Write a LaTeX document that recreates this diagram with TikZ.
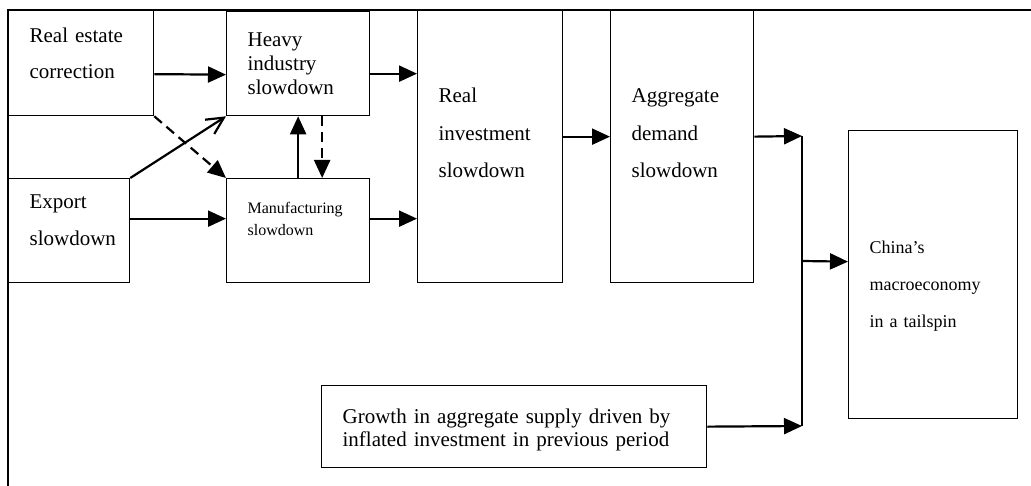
\documentclass[tikz,border=0pt]{standalone}
\usepackage{fontspec}
\setmainfont{Liberation Serif}
\usetikzlibrary{arrows.meta}
\hyphenpenalty=10000
\exhyphenpenalty=10000

\tikzset{
  box/.style={draw, line width=0.65pt, anchor=north west, align=left,
              inner xsep=10.5pt, inner ysep=0pt},
  flow/.style={line width=1.1pt, -{Triangle[length=9pt,width=8pt]}},
  flowdash/.style={flow, dash pattern=on 5pt off 3pt},
  flowopen/.style={line width=1.1pt, -{Straight Barb[length=8.5pt,width=8.5pt]}},
}

\begin{document}
\begin{tikzpicture}[x=0.5pt, y=-0.5pt]
\useasboundingbox (0,0) rectangle (1031,486);
% outer frame
\draw[line width=0.75pt] (8,486) -- (8,10) -- (1031,10);

% left column
\node[box, minimum width=72.5pt, minimum height=52.5pt, text width=51.5pt,
      text depth=27.5pt, font=\fontsize{10.5}{18}\selectfont]
      (realest) at (8,10) {Real estate\\correction};
\node[box, minimum width=60.5pt, minimum height=52pt, text width=39.5pt,
      text depth=29pt, font=\fontsize{10.5}{18.5}\selectfont]
      (export) at (8,178) {Export\\slowdown};

% sector boxes
\node[box, minimum width=71.5pt, minimum height=52pt, text width=50.5pt,
      font=\fontsize{10.5}{12.2}\selectfont]
      (heavy) at (226,11) {Heavy\\industry\\slowdown};
\node[box, minimum width=71.5pt, minimum height=52pt, text width=50.5pt,
      text depth=23pt, font=\fontsize{8}{11}\selectfont]
      (manuf) at (226,178) {Manufacturing\\slowdown};

% tall boxes
\node[box, minimum width=72.5pt, minimum height=136pt, text width=51.5pt,
      text depth=51.2pt, font=\fontsize{10.5}{18.75}\selectfont]
      (realinv) at (417,10) {Real\\investment\\slowdown};
\node[box, minimum width=71.5pt, minimum height=136pt, text width=50.5pt,
      text depth=51pt, font=\fontsize{10.5}{18.75}\selectfont]
      (aggdem) at (610,10) {Aggregate\\demand\\slowdown};
\node[box, minimum width=84.5pt, minimum height=144pt, text width=63.5pt,
      text depth=27pt, font=\fontsize{9}{18.5}\selectfont]
      (china) at (848,130) {China’s\\macroeconomy\\in a tailspin};

% supply side
\node[box, minimum width=192.5pt, minimum height=41pt, text width=171.5pt,
      text depth=10pt, font=\fontsize{10.5}{11.5}\selectfont]
      (growth) at (321,385) {Growth in aggregate supply driven by\\inflated investment in previous period};

% junction points
\coordinate (jtop) at (802,136);
\coordinate (jmid) at (802,261);
\coordinate (jbot) at (802,426);

% connectors
\draw[flow] ([yshift=-5.5pt]realest.east) -- ([yshift=-5.5pt]heavy.west);
\draw[flowdash] (realest.south east) -- (manuf.north west);
\draw[flowopen] (export.north east) -- (heavy.south west);
\draw[flow] ([yshift=6pt]export.east) -- ([yshift=6pt]manuf.west);
\draw[flow] (manuf.north) -- (heavy.south);
\draw[flowdash] ([xshift=12pt]heavy.south) -- ([xshift=12pt]manuf.north);
\draw[flow] ([yshift=-5pt]heavy.east) -- ([yshift=36.5pt]realinv.west);
\draw[flow] ([yshift=6pt]manuf.east) -- ([yshift=-36pt]realinv.west);
\draw[flow] ([yshift=5pt]realinv.east) -- ([yshift=5pt]aggdem.west);
\draw[flow] ([yshift=5pt]aggdem.east) -- (jtop);
\draw[flow] (growth.east) -- (jbot);
\draw[line width=0.65pt] (jtop) -- (jbot);
\draw[flow] (jmid) -- ([yshift=6.5pt]china.west);
\end{tikzpicture}
\end{document}
